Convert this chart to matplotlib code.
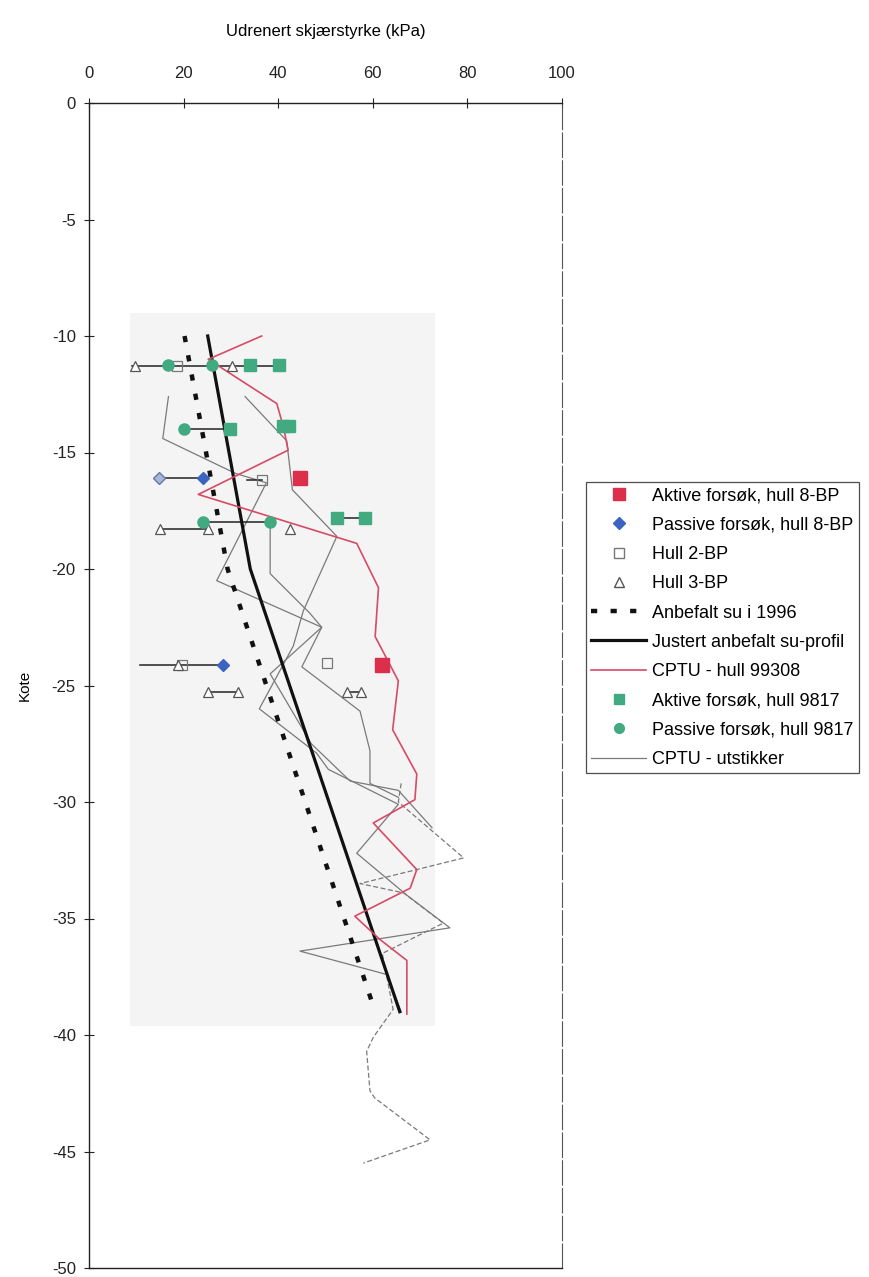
import matplotlib
matplotlib.use("Agg")
import matplotlib.pyplot as plt
from matplotlib.patches import Rectangle
from matplotlib.lines import Line2D

plt.rcParams['font.family'] = ['Liberation Sans', 'DejaVu Sans']
plt.rcParams['axes.unicode_minus'] = False

# ---------------- data ----------------
x_ticks = [0, 20, 40, 60, 80, 100]
y_ticks = [0, -5, -10, -15, -20, -25, -30, -35, -40, -45, -50]

# Aktive forsøk, hull 8-BP
akt8_x = [44.6, 61.9]
akt8_y = [-16.1, -24.1]
# Passive forsøk, hull 8-BP
pas8_x = [24.0, 28.4]
pas8_y = [-16.1, -24.1]
pas8_light_x = [14.7]
pas8_light_y = [-16.1]
# Hull 2-BP
h2_x = [18.5, 36.5, 50.4, 19.7]
h2_y = [-11.3, -16.2, -24.05, -24.1]
# Hull 3-BP
h3_x = [9.7, 30.2, 15.0, 25.2, 42.5, 18.9, 25.2, 31.5, 54.5, 57.5]
h3_y = [-11.3, -11.3, -18.3, -18.3, -18.3, -24.1, -25.3, -25.3, -25.3, -25.3]
# Anbefalt su i 1996
anb_x = [20.2, 29.3, 60.5]
anb_y = [-10.0, -20.0, -39.0]
# Justert anbefalt su-profil
jus_x = [25.1, 34.1, 65.7]
jus_y = [-10.0, -20.0, -39.0]
# CPTU - hull 99308
cptu_x = [36.5, 25.2, 39.7, 41.1, 42.1, 23.1, 56.6, 61.2, 60.5, 65.4, 64.2,
          69.3, 68.9, 60.1, 69.3, 67.9, 56.2, 61.5, 67.2, 67.2]
cptu_y = [-10.0, -11.0, -12.9, -13.9, -14.9, -16.8, -18.9, -20.8, -22.9, -24.8, -26.9,
          -28.8, -29.9, -30.9, -32.9, -33.7, -34.9, -35.9, -36.8, -39.1]
# Aktive forsøk, hull 9817
akt98_x = [34.0, 40.2, 29.8, 41.0, 42.2, 52.4, 58.4]
akt98_y = [-11.24, -11.24, -14.0, -13.85, -13.85, -17.8, -17.8]
# Passive forsøk, hull 9817
pas98_x = [16.8, 26.1, 20.1, 24.2, 38.3]
pas98_y = [-11.24, -11.24, -14.0, -18.0, -18.0]
# CPTU - utstikker (several soundings)
ut1_x = [16.8, 15.6, 31.0, 37.5, 27.0, 49.2, 38.3, 47.0, 55.2, 65.4, 72.5]
ut1_y = [-12.6, -14.4, -15.9, -16.3, -20.5, -22.5, -24.5, -27.5, -29.1, -29.5, -31.1]
ut2_x = [33.0, 41.8, 43.0, 52.4, 45.3, 43.2, 36.0, 48.1, 50.6, 65.4, 56.6, 67.2,
         76.3, 44.6, 62.9, 66.0]
ut2_y = [-12.6, -14.5, -16.6, -18.6, -21.8, -23.3, -26.0, -27.9, -28.6, -30.1, -32.2,
         -34.0, -35.4, -36.4, -37.4, -39.0]
ut3_x = [38.3, 38.3, 46.7, 49.2, 45.0, 57.3, 59.4, 59.4, 65.4]
ut3_y = [-18.0, -20.2, -21.9, -22.5, -24.2, -26.1, -27.8, -29.2, -29.8]
ut4_x = [66.0, 65.4, 79.2, 69.3, 57.3, 66.5, 74.9, 62.0, 64.3, 60.1, 58.7, 59.4,
         60.4, 72.1, 58.0]
ut4_y = [-29.2, -30.0, -32.4, -32.9, -33.5, -33.9, -35.2, -36.5, -38.9, -40.1, -40.7,
         -42.4, -42.7, -44.5, -45.5]

# horizontal connectors between paired test results
con_x1 = [9.1, 20.1, 41.0, 14.7, 24.2, 15.0, 52.4, 10.8, 25.2, 54.5, 33.5]
con_x2 = [40.2, 29.8, 42.2, 24.0, 38.3, 25.2, 58.4, 28.4, 31.5, 57.5, 36.5]
con_y = [-11.3, -14.0, -13.85, -16.1, -18.0, -18.3, -17.8, -24.1, -25.3, -25.3, -16.2]

# ---------------- figure ----------------
fig = plt.figure(figsize=(8.69, 12.77), dpi=100)
ax = fig.add_axes([89 / 869, 9 / 1277, 473 / 869, 1165 / 1277])

ax.add_patch(Rectangle((8.7, -39.6), 64.5, 30.6, facecolor='#f4f4f4',
                       edgecolor='none', zorder=0))

RED = '#dc2f4b'
REDLINE = '#d64b66'
BLUE = '#3a64c0'
GREEN = '#41aa80'
GRAY = '#7a7a7a'

for xs, ys, ls in [(ut1_x, ut1_y, '-'), (ut2_x, ut2_y, '-'),
                   (ut3_x, ut3_y, '-'), (ut4_x, ut4_y, (0, (4, 2)))]:
    ax.plot(xs, ys, color=GRAY, lw=0.9, ls=ls, zorder=2)

for x1, x2, y in zip(con_x1, con_x2, con_y):
    ax.plot([x1, x2], [y, y], color='#222222', lw=1.1, zorder=3)

ax.plot(anb_x, anb_y, color='#111111', lw=3.2, ls=(0, (1.4, 3.0)), zorder=4)
ax.plot(jus_x, jus_y, color='#111111', lw=2.3, zorder=4)
ax.plot(cptu_x, cptu_y, color=REDLINE, lw=1.2, zorder=4)

ax.plot(h2_x, h2_y, ls='none', marker='s', ms=7, mfc='none', mec='#777777',
        mew=0.9, zorder=5)
ax.plot(h3_x, h3_y, ls='none', marker='^', ms=7, mfc='white', mec='#555555',
        mew=0.9, zorder=5)
ax.plot(pas8_light_x, pas8_light_y, ls='none', marker='D', ms=6, mfc='#aab6d6',
        mec='#6677aa', mew=1.0, zorder=6)
ax.plot(pas8_x, pas8_y, ls='none', marker='D', ms=6, color=BLUE, zorder=6)
ax.plot(akt8_x, akt8_y, ls='none', marker='s', ms=10, color=RED, zorder=6)
ax.plot(akt98_x, akt98_y, ls='none', marker='s', ms=8, color=GREEN, zorder=6)
ax.plot(pas98_x, pas98_y, ls='none', marker='o', ms=8, color=GREEN, zorder=6)

ax.set_xlim(0, 100)
ax.set_ylim(-50, 0)
ax.set_xticks(x_ticks)
ax.set_yticks(y_ticks)
ax.set_yticklabels([str(v) for v in y_ticks])
ax.xaxis.tick_top()
ax.xaxis.set_label_position('top')
ax.tick_params(axis='both', direction='inout', length=7, width=0.8,
               labelsize=12, colors='#222222')
ax.tick_params(axis='x', pad=12)
ax.tick_params(axis='y', pad=6)
ax.set_xlabel('Udrenert skjærstyrke (kPa)', fontsize=12, labelpad=22)
ax.set_ylabel('Kote', fontsize=11, labelpad=14)

for s in ['top', 'bottom', 'left']:
    ax.spines[s].set_linewidth(1.0)
    ax.spines[s].set_color('#222222')
ax.spines['right'].set_linestyle((0, (22, 3)))
ax.spines['right'].set_linewidth(0.8)
ax.spines['right'].set_color('#555555')

# legend
handles = [
    Line2D([], [], ls='none', marker='s', ms=8, color=RED),
    Line2D([], [], ls='none', marker='D', ms=6, color=BLUE),
    Line2D([], [], ls='none', marker='s', ms=7, mfc='none', mec='#777777'),
    Line2D([], [], ls='none', marker='^', ms=7, mfc='white', mec='#555555'),
    Line2D([], [], color='#111111', lw=3.2, ls=(0, (1.4, 3.0))),
    Line2D([], [], color='#111111', lw=2.3),
    Line2D([], [], color=REDLINE, lw=1.2),
    Line2D([], [], ls='none', marker='s', ms=7, color=GREEN),
    Line2D([], [], ls='none', marker='o', ms=7, color=GREEN),
    Line2D([], [], color=GRAY, lw=0.9),
]
labels = ['Aktive forsøk, hull 8-BP', 'Passive forsøk, hull 8-BP', 'Hull 2-BP',
          'Hull 3-BP', 'Anbefalt su i 1996', 'Justert anbefalt su-profil',
          'CPTU - hull 99308', 'Aktive forsøk, hull 9817',
          'Passive forsøk, hull 9817', 'CPTU - utstikker']
leg = fig.legend(handles, labels, loc='upper left',
                 bbox_to_anchor=(586 / 869, 1 - 482 / 1277),
                 fontsize=13, frameon=True, fancybox=False, edgecolor='#222222',
                 handlelength=3.0, handletextpad=0.35, labelspacing=0.68,
                 borderpad=0.3, borderaxespad=0.0)
leg.get_frame().set_linewidth(0.9)

fig.savefig('out.png', dpi=100)
